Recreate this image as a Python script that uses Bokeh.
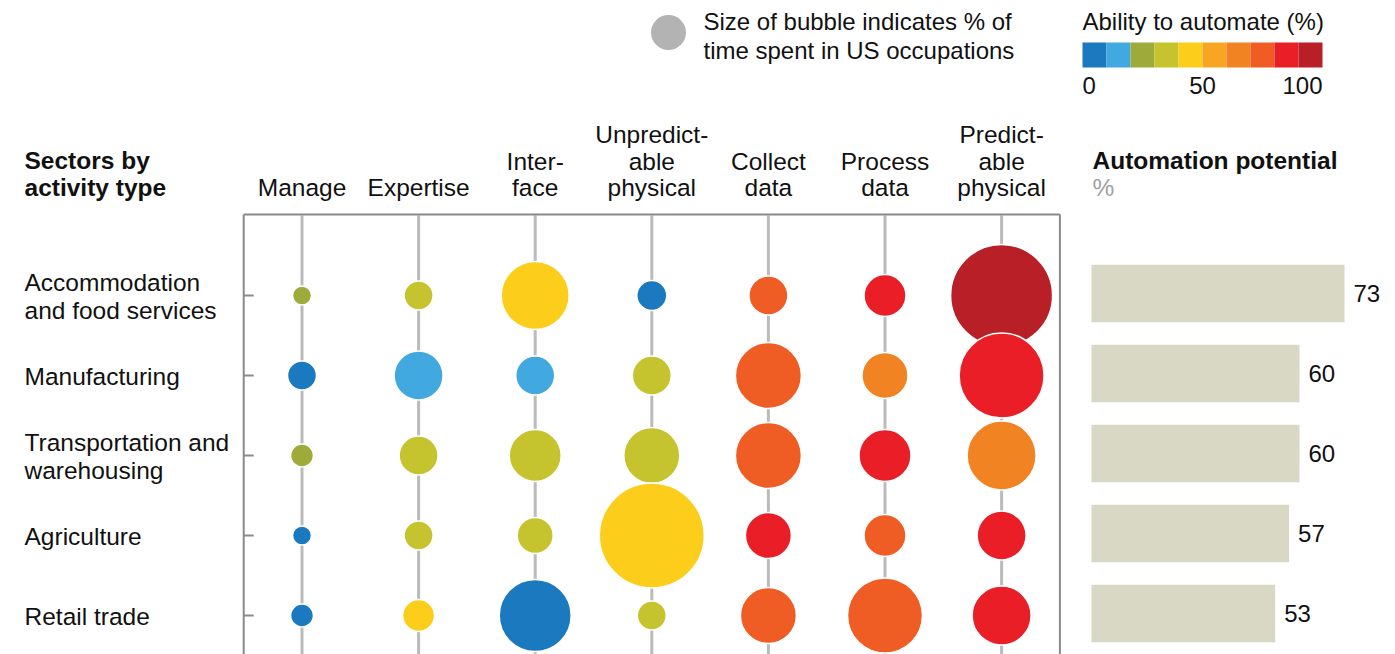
import math
from bokeh.plotting import figure
from bokeh.models import Range1d, LinearColorMapper, ColumnDataSource
from bokeh.core.properties import value
from bokeh.transform import transform
from bokeh.embed import file_html
from bokeh.resources import INLINE

# ---------------- data ----------------
activities = ["Manage", "Expertise", "Inter-\nface", "Unpredict-\nable\nphysical",
              "Collect\ndata", "Process\ndata", "Predict-\nable\nphysical"]
sectors = ["Accommodation\nand food services", "Manufacturing",
           "Transportation and\nwarehousing", "Agriculture", "Retail trade"]

# % of time spent (bubble area), one list per sector
time_accommodation = [1.8, 4.2, 23.1, 4.5, 7.6, 8.8, 52.0]
time_manufacturing = [4.2, 12.0, 7.6, 7.6, 21.8, 10.6, 36.1]
time_transportation = [2.6, 7.6, 13.5, 15.7, 21.8, 13.5, 23.8]
time_agriculture = [1.8, 4.2, 6.5, 55.1, 10.6, 8.8, 12.0]
time_retail = [2.6, 5.1, 25.9, 4.2, 15.7, 28.1, 17.4]

# ability to automate (%), one list per sector
auto_accommodation = [25, 35, 45, 5, 75, 85, 95]
auto_manufacturing = [5, 15, 15, 35, 75, 65, 85]
auto_transportation = [25, 35, 35, 35, 75, 85, 65]
auto_agriculture = [5, 35, 35, 45, 85, 75, 85]
auto_retail = [5, 45, 5, 35, 75, 75, 85]

potential = [73, 60, 60, 57, 53]

palette = ["#1A79BF", "#41A9E0", "#9EAB3B", "#C5C42E", "#FCCE1B",
           "#F7A623", "#F28322", "#EF5D24", "#EA1E27", "#B81F26"]
legend_ticks = [0, 50, 100]

time_rows = [time_accommodation, time_manufacturing, time_transportation,
             time_agriculture, time_retail]
auto_rows = [auto_accommodation, auto_manufacturing, auto_transportation,
             auto_agriculture, auto_retail]

# ---------------- layout helpers (page pixels -> data units) ----------------
W, H = 1395, 654
ORG = 0
COL0, COLW = 301.5, 116.6
ROW0, ROWH = 295.0, 80.0


def dx(px):
    return (px - COL0) / COLW


def dy(py):
    return (py - ROW0) / ROWH


FONT = value("Liberation Sans")
TXT = "#111111"
FS = "24.5px"
FSL = "24px"

p = figure(width=W, height=H, output_backend="svg", toolbar_location=None,
           x_axis_type=None, y_axis_type=None,
           x_range=Range1d(dx(ORG), dx(ORG + W)),
           y_range=Range1d(dy(ORG + H), dy(ORG)),
           min_border=0, outline_line_color=None)
p.grid.visible = False
p.background_fill_color = "white"

BAR0, BARK = 1091.0, 3.466
p.extra_x_ranges["pct"] = Range1d((ORG - BAR0) / BARK, (ORG + W - BAR0) / BARK)
LEG0, LEGK = 1082.0, 2.4
p.extra_x_ranges["leg"] = Range1d((ORG - LEG0) / LEGK, (ORG + W - LEG0) / LEGK)

ncol = len(activities)
rows = list(range(len(sectors)))
cols = list(range(ncol))

# vertical guide lines
p.segment(x0=cols, y0=[dy(215)] * ncol, x1=cols, y1=[dy(700)] * ncol,
          line_color="#BBBBBB", line_width=3)

# frame (left, top, right) and row ticks
FR = "#8A8A8A"
p.segment(x0=[-0.5, -0.5, ncol - 0.5], y0=[dy(700), dy(214), dy(214)],
          x1=[-0.5, ncol - 0.5, ncol - 0.5], y1=[dy(214), dy(214), dy(700)],
          line_color=FR, line_width=2)
p.segment(x0=[-0.5] * len(rows), y0=rows, x1=[-0.5 + 10 / COLW] * len(rows), y1=rows,
          line_color=FR, line_width=2)

# bubbles
bx, by, bs, ba = [], [], [], []
for r in rows:
    for c in cols:
        bx.append(c)
        by.append(r)
        bs.append(math.sqrt(200.0 * time_rows[r][c]))
        ba.append(auto_rows[r][c])
src = ColumnDataSource(dict(x=bx, y=by, size=bs, auto=ba))
mapper = LinearColorMapper(palette=palette, low=0, high=100)
p.scatter("x", "y", size="size", source=src, fill_color=transform("auto", mapper),
          line_color="white", line_width=1.5)

# column headers (bottom aligned)
hx, hy, ht = [], [], []
for c, name in enumerate(activities):
    lines = name.split("\n")
    n = len(lines)
    for k, ln in enumerate(lines):
        hx.append(c)
        hy.append(dy(187 - (n - 1 - k) * 26.3))
        ht.append(ln)
p.text(x=hx, y=hy, text=ht, text_font=FONT, text_font_size=FS,
       text_align="center", text_baseline="middle", text_color=TXT)

# row labels
lx, ly, lt = [], [], []
for r, name in enumerate(sectors):
    lines = name.split("\n")
    n = len(lines)
    for k, ln in enumerate(lines):
        lx.append(dx(24))
        ly.append(r + (k - (n - 1) / 2) * 27.5 / ROWH + 1 / ROWH)
        lt.append(ln)
p.text(x=lx, y=ly, text=lt, text_font=FONT, text_font_size=FS,
       text_align="left", text_baseline="middle", text_color=TXT)

# titles
p.text(x=[dx(24), dx(24), dx(1092)], y=[dy(160), dy(187), dy(160)],
       text=["Sectors by", "activity type", "Automation potential"],
       text_font=FONT, text_font_size=FS, text_font_style="bold",
       text_align="left", text_baseline="middle", text_color=TXT)
p.text(x=[dx(1092)], y=[dy(187)], text=["%"], text_font=FONT, text_font_size=FS,
       text_align="left", text_baseline="middle", text_color="#A0A0A0")

# bars
bar_y = [r - 2 / ROWH for r in rows]
p.hbar(y=bar_y, left=0, right=potential, height=0.72, fill_color="#D9D8C4",
       line_color=None, x_range_name="pct")
p.text(x=potential, y=bar_y, text=[str(v) for v in potential], x_offset=9,
       x_range_name="pct", text_font=FONT, text_font_size=FSL,
       text_align="left", text_baseline="middle", text_color=TXT)

# size legend
p.scatter(x=[dx(668)], y=[dy(32)], size=35, fill_color="#B3B3B3", line_color=None)
p.text(x=[dx(703), dx(703)], y=[dy(21), dy(50)],
       text=["Size of bubble indicates % of", "time spent in US occupations"],
       text_font=FONT, text_font_size=FSL, text_align="left",
       text_baseline="middle", text_color=TXT)

# colour legend
nb = len(palette)
step = 100 / nb
p.quad(left=[i * step for i in range(nb)], right=[(i + 1) * step for i in range(nb)],
       top=dy(42), bottom=dy(67), fill_color=palette, line_color=None,
       x_range_name="leg")
p.text(x=[dx(1082)], y=[dy(21)], text=["Ability to automate (%)"], text_font=FONT,
       text_font_size=FSL, text_align="left", text_baseline="middle", text_color=TXT)
aligns = ["left", "center", "right"]
for t, a in zip(legend_ticks, aligns):
    p.text(x=[t], y=[dy(85)], text=[str(t)], x_range_name="leg", text_font=FONT,
           text_font_size=FSL, text_align=a, text_baseline="middle", text_color=TXT)

open("out.html", "w").write(file_html(p, INLINE))
